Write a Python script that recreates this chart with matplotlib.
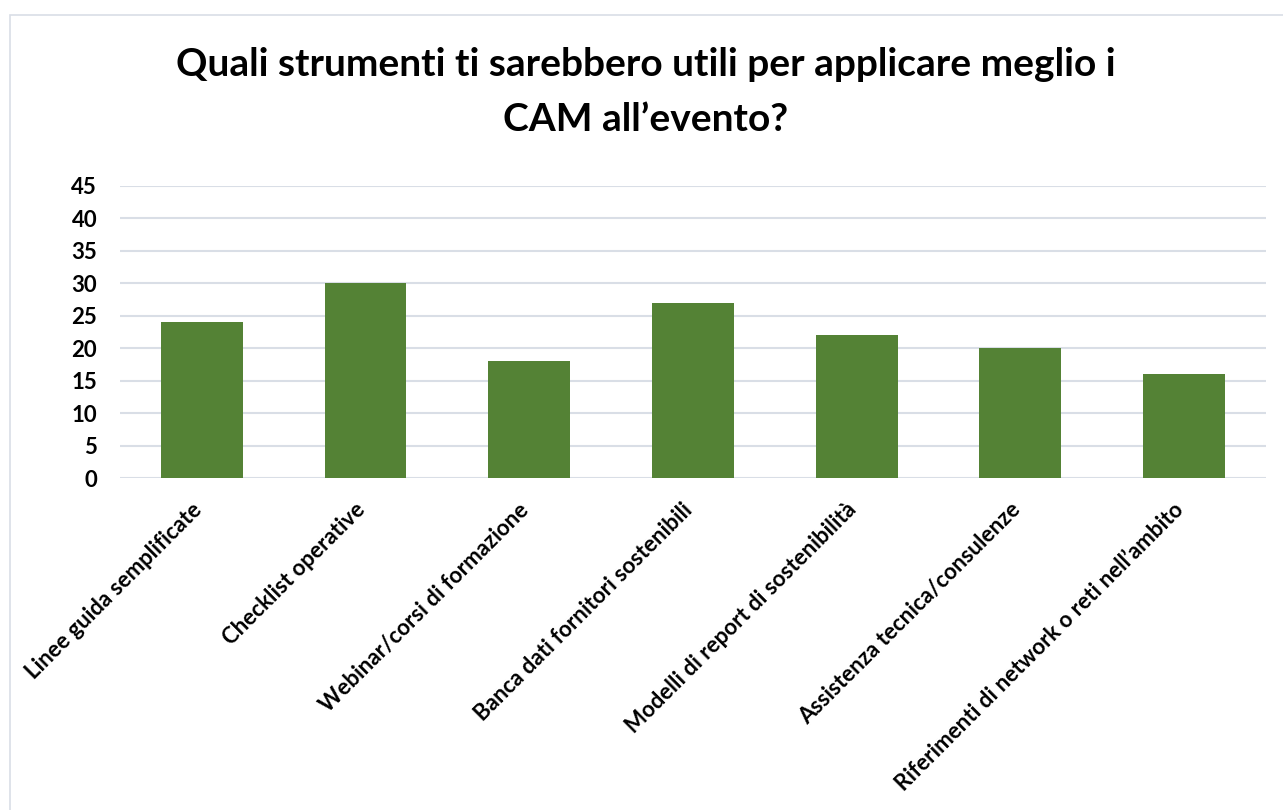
import matplotlib
matplotlib.use("Agg")
import matplotlib.pyplot as plt
import matplotlib.transforms as mtransforms
from matplotlib.patches import Rectangle

# data
categories = ["Linee guida semplificate", "Checklist operative",
              "Webinar/corsi di formazione", "Banca dati fornitori sostenibili",
              "Modelli di report di sostenibilità", "Assistenza tecnica/consulenze",
              "Riferimenti di network o reti nell\u2019ambito"]
values = [24, 30, 18, 27, 22, 20, 16]
yticks = [0, 5, 10, 15, 20, 25, 30, 35, 40, 45]
title = "Quali strumenti ti sarebbero utili per applicare meglio i\nCAM all\u2019evento?"

plt.rcParams['font.family'] = ['Lato', 'DejaVu Sans']

fig = plt.figure(figsize=(12.83, 8.10), dpi=100)
# chart border
fig.patches.append(Rectangle((10 / 1283, -0.01), 1.02, 1 - 15 / 810 + 0.01,
                             transform=fig.transFigure, fill=False,
                             edgecolor="#D9DEE6", linewidth=1.2))

ax = fig.add_axes([120 / 1283, 1 - 478.3 / 810, (1266 - 120) / 1283, (478.3 - 185.7) / 810])
x = range(len(categories))
ax.bar(x, values, width=0.5, color="#548235", zorder=3)
ax.set_xlim(-0.5, len(categories) - 0.5)
ax.set_ylim(0, 45)
ax.set_yticks(yticks)
ax.set_yticklabels([str(v) for v in yticks], fontsize=16, fontweight="bold")
ax.set_xticks(list(x))
ax.set_xticklabels(categories, rotation=45, ha="right", rotation_mode="anchor",
                   fontsize=16, fontweight="bold")
ax.tick_params(axis="both", length=0)
ax.tick_params(axis="y", pad=16.5)
ax.tick_params(axis="x", pad=15)
# nudge the rotated labels a bit left, like excel places them
shift = mtransforms.ScaledTranslation(-0.11, 0, fig.dpi_scale_trans)
for lab in ax.get_xticklabels():
    lab.set_transform(lab.get_transform() + shift)
ax.grid(axis="y", color="#D9DEE6", linewidth=1.5, zorder=0)
for s in ax.spines.values():
    s.set_visible(False)

fig.text(0.503, 1 - 92 / 810, title, ha="center", va="center",
         fontsize=28, fontweight="bold", linespacing=1.7)

fig.savefig("out.png", dpi=100)
